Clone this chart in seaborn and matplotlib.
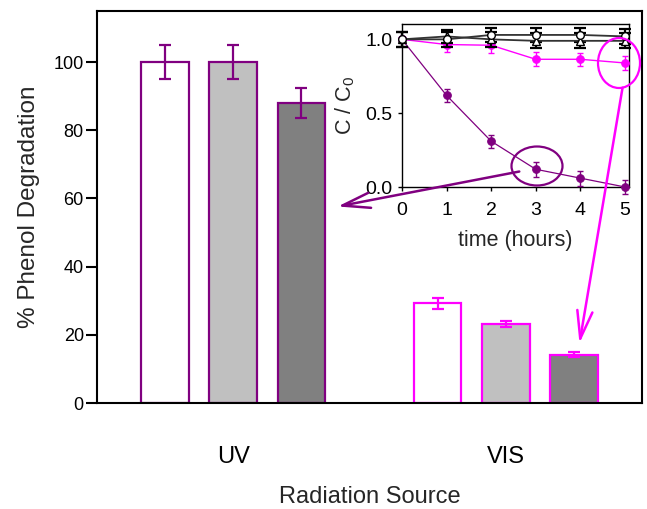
import matplotlib
matplotlib.use("Agg")
import matplotlib.pyplot as plt
from matplotlib.patches import Ellipse, FancyArrowPatch
from matplotlib.container import BarContainer
import numpy as np
import pandas as pd
import seaborn as sns

# ---------------- data ----------------
sources = ["UV", "VIS"]
samples = ["Sample 1", "Sample 2", "Sample 3"]
uv_values = [100, 100, 88]
uv_errors = [5, 5, 4.5]
vis_values = [29.2, 23.2, 14.2]
vis_errors = [1.5, 1.0, 0.7]
y_ticks = [0, 20, 40, 60, 80, 100]

time_h = [0, 1, 2, 3, 4, 5]
uv_curve = [1.0, 0.62, 0.31, 0.12, 0.06, 0.0]
uv_curve_err = [0.0, 0.045, 0.045, 0.05, 0.05, 0.045]
vis_curve = [1.0, 0.965, 0.96, 0.865, 0.865, 0.84]
vis_curve_err = [0.0, 0.05, 0.05, 0.048, 0.045, 0.045]
dark_circle = [1.0, 1.0, 1.03, 1.03, 1.03, 1.02]
dark_circle_err = [0.05, 0.05, 0.05, 0.05, 0.05, 0.05]
dark_triangle = [1.0, 1.02, 1.0, 0.99, 0.99, 0.99]
dark_triangle_err = [0.05, 0.045, 0.05, 0.05, 0.05, 0.05]
inset_yticks = [0.0, 0.5, 1.0]

# ---------------- style ----------------
bar_fills = ["#FFFFFF", "#C0C0C0", "#808080"]
source_colors = {"UV": "#800080", "VIS": "#FF00FF"}
PURPLE = "#800080"
MAGENTA = "#FF00FF"

sns.set_style("ticks")
plt.rcParams["font.family"] = ["Liberation Sans", "DejaVu Sans"]
plt.rcParams["mathtext.default"] = "regular"

W, H = 647, 509
fig = plt.figure(figsize=(W / 100, H / 100), dpi=100)

def fx(px):
    return px / W

def fy(py):
    return 1 - py / H

ax = fig.add_axes([fx(97), fy(403), fx(642) - fx(97), fy(11) - fy(403)])

df = pd.DataFrame({
    "source": [s for s in sources for _ in samples],
    "sample": samples * len(sources),
    "value": uv_values + vis_values,
})
err_table = {"UV": uv_errors, "VIS": vis_errors}

sns.barplot(data=df, x="source", y="value", hue="sample", order=sources,
            hue_order=samples, palette=bar_fills, width=0.75, gap=0.3,
            errorbar=None, legend=False, ax=ax, saturation=1)

bar_conts = [c for c in ax.containers if isinstance(c, BarContainer)]
for hi, cont in enumerate(bar_conts):
    for p in cont.patches:
        cx = p.get_x() + p.get_width() / 2
        src = sources[int(round(cx))]
        col = source_colors[src]
        p.set_edgecolor(col)
        p.set_linewidth(1.6)
        ax.errorbar(cx, p.get_height(), yerr=err_table[src][hi], fmt="none",
                    ecolor=col, elinewidth=1.6, capsize=4.3, capthick=1.6, zorder=5)

ax.set_xlim(-0.5, 1.5)
ax.set_ylim(0, 115)
ax.set_yticks(y_ticks)
for s in ax.spines.values():
    s.set_visible(True)
    s.set_linewidth(1.5)
    s.set_color("black")
ax.tick_params(axis="y", length=8, width=1.5, pad=1.5, labelsize=13, colors="black")
ax.tick_params(axis="x", length=0, pad=31, labelsize=17, colors="black")
ax.set_xlabel("Radiation Source", fontsize=17, labelpad=13)
ax.set_ylabel("% Phenol Degradation", fontsize=17.5, labelpad=10)

# ---------------- inset ----------------
ins = fig.add_axes([fx(402), fy(187), fx(629) - fx(402), fy(24) - fy(187)])
ins.set_facecolor("white")

ins.errorbar(time_h, uv_curve, yerr=uv_curve_err, fmt="none", ecolor=PURPLE,
             elinewidth=1, capsize=2.2, capthick=1, clip_on=False, zorder=3)
sns.lineplot(x=time_h, y=uv_curve, ax=ins, color=PURPLE, lw=0.9, marker="o",
             markersize=5.5, markerfacecolor=PURPLE, markeredgecolor=PURPLE,
             clip_on=False, zorder=4)
ins.errorbar(time_h, vis_curve, yerr=vis_curve_err, fmt="none", ecolor=MAGENTA,
             elinewidth=1, capsize=2.2, capthick=1, clip_on=False, zorder=3)
sns.lineplot(x=time_h, y=vis_curve, ax=ins, color=MAGENTA, lw=1, marker="o",
             markersize=5.5, markerfacecolor=MAGENTA, markeredgecolor=MAGENTA,
             clip_on=False, zorder=4)
ins.errorbar(time_h, dark_triangle, yerr=dark_triangle_err, fmt="none", ecolor="black",
             elinewidth=1.6, capsize=4.3, capthick=1.6, clip_on=False, zorder=5)
ins.errorbar(time_h, dark_circle, yerr=dark_circle_err, fmt="none", ecolor="black",
             elinewidth=1.6, capsize=4.3, capthick=1.6, clip_on=False, zorder=5)
sns.lineplot(x=time_h, y=dark_triangle, ax=ins, color="#333333", lw=1.3, marker="^",
             markersize=6, markerfacecolor="white", markeredgecolor="black",
             markeredgewidth=1, clip_on=False, zorder=6)
sns.lineplot(x=time_h, y=dark_circle, ax=ins, color="#333333", lw=1.3, marker="o",
             markersize=5.5, markerfacecolor="white", markeredgecolor="black",
             markeredgewidth=1, clip_on=False, zorder=6)

ins.set_xlim(0, 5.09)
ins.set_ylim(0, 1.104)
ins.set_xticks(time_h)
ins.set_yticks(inset_yticks)
ins.set_yticklabels([f"{v:.1f}" for v in inset_yticks])
for s in ins.spines.values():
    s.set_visible(True)
    s.set_linewidth(1)
    s.set_color("black")
ins.tick_params(axis="x", length=3, width=1, pad=8, labelsize=14, colors="black")
ins.tick_params(axis="y", length=3, width=1, pad=4, labelsize=14, colors="black")
ins.set_xlabel("time (hours)", fontsize=15.5, labelpad=8)
ins.set_ylabel("C / C$_0$", fontsize=15.5, labelpad=6)

# ---------------- annotations (ellipses + arrows) ----------------
e1 = Ellipse((fx(537), fy(166)), fx(51), 39 / H, transform=fig.transFigure,
             fill=False, edgecolor=PURPLE, lw=1.6, zorder=10)
e2 = Ellipse((fx(619), fy(63)), fx(42), 50 / H, transform=fig.transFigure,
             fill=False, edgecolor=MAGENTA, lw=1.6, zorder=10)
fig.add_artist(e1)
fig.add_artist(e2)

a1 = FancyArrowPatch((fx(522), fy(171)), (fx(335), fy(207)), transform=fig.transFigure,
                     arrowstyle="->,head_length=2.0,head_width=0.55", mutation_scale=10,
                     color=PURPLE, lw=1.8, zorder=10)
a2 = FancyArrowPatch((fx(623), fy(85)), (fx(579), fy(346)), transform=fig.transFigure,
                     arrowstyle="->,head_length=2.0,head_width=0.55", mutation_scale=10,
                     color=MAGENTA, lw=1.8, zorder=10)
fig.add_artist(a1)
fig.add_artist(a2)

fig.savefig("out.png", dpi=100)
